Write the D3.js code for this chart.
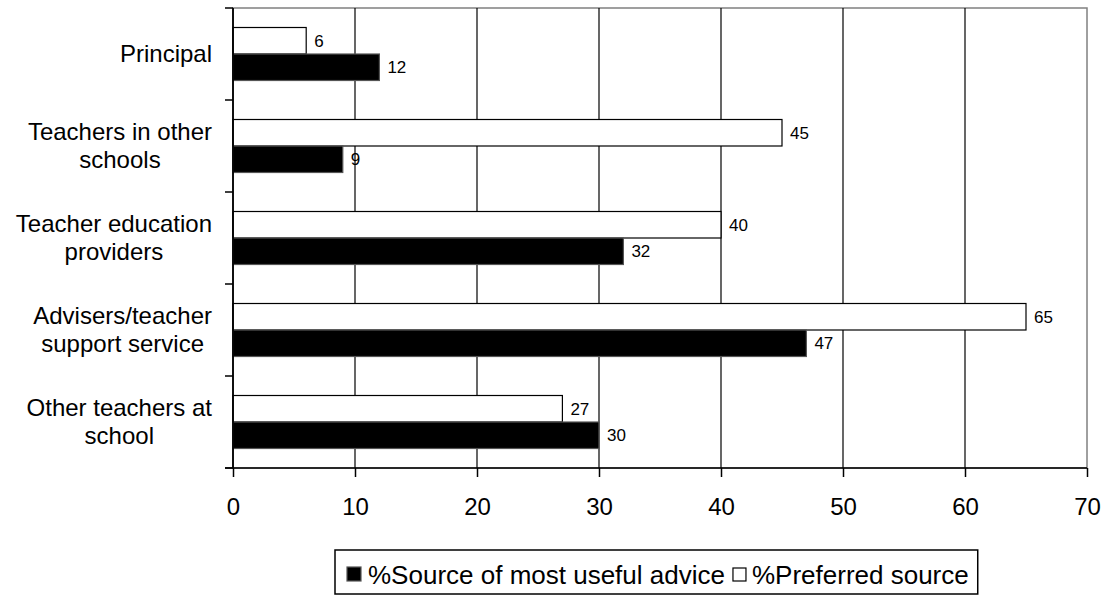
<!DOCTYPE html>
<html>
<head>
<meta charset="utf-8">
<script src="https://cdn.jsdelivr.net/npm/d3@7"></script>
<style>
  html, body { margin: 0; padding: 0; background: #fff; }
  svg { display: block; }
  text { font-family: "Liberation Sans", Arial, sans-serif; fill: #000; }
</style>
</head>
<body>
<svg id="chart" width="1106" height="595"></svg>
<script>
// ---- data ----
const categories = ["Principal", "Teachers in other schools", "Teacher education providers", "Advisers/teacher support service", "Other teachers at school"];
const categoryLines = [["Principal"], ["Teachers in other", "schools"], ["Teacher education", "providers"], ["Advisers/teacher", "support service"], ["Other teachers at", "school"]];
const seriesNames = ["%Preferred source", "%Source of most useful advice"];
const preferred = [6, 45, 40, 65, 27];
const useful = [12, 9, 32, 47, 30];
const xTicks = [0, 10, 20, 30, 40, 50, 60, 70];
const legendOrder = ["%Source of most useful advice", "%Preferred source"];

// ---- layout ----
const svg = d3.select("#chart");
const pLeft = 233, pRight = 1087, pTop = 8, pBottom = 468;
const x = d3.scaleLinear().domain([0, 70]).range([pLeft, pRight]);
const y = d3.scaleBand().domain(categories).range([pTop, pBottom]).padding(0);
const inner = d3.scaleBand().domain(seriesNames).range([0, y.bandwidth()]).paddingInner(0).paddingOuter(0.736);
const fills = { "%Preferred source": "#fff", "%Source of most useful advice": "#000" };
const valuesBySeries = { "%Preferred source": preferred, "%Source of most useful advice": useful };

// plot border (gray top/right)
svg.append("rect").attr("x", pLeft).attr("y", pTop).attr("width", pRight - pLeft).attr("height", pBottom - pTop)
  .attr("fill", "none").attr("stroke", "#808080").attr("stroke-width", 1.5);

// gridlines
svg.append("g").selectAll("line").data(xTicks.filter(t => t > 0 && t < 70)).join("line")
  .attr("x1", d => x(d)).attr("x2", d => x(d)).attr("y1", pTop).attr("y2", pBottom)
  .attr("stroke", "#000").attr("stroke-width", 1.2);

// bars
const rows = [];
categories.forEach((c, i) => seriesNames.forEach(s => rows.push({ cat: c, s, v: valuesBySeries[s][i] })));
svg.append("g").selectAll("rect").data(rows).join("rect")
  .attr("x", x(0))
  .attr("y", d => y(d.cat) + inner(d.s))
  .attr("width", d => x(d.v) - x(0))
  .attr("height", inner.bandwidth())
  .attr("fill", d => fills[d.s])
  .attr("stroke", d => d.s === "%Preferred source" ? "#000" : "#555")
  .attr("stroke-width", 1.2);

// data labels
svg.append("g").selectAll("text").data(rows).join("text")
  .attr("x", d => x(d.v) + 8)
  .attr("y", d => y(d.cat) + inner(d.s) + inner.bandwidth() / 2)
  .attr("dy", "0.35em")
  .attr("font-size", 17)
  .text(d => d.v);

// x axis
const xAxis = d3.axisBottom(x).tickValues(xTicks).tickSize(9).tickPadding(21).tickFormat(d3.format("d"));
const gx = svg.append("g").attr("transform", `translate(0,${pBottom})`).call(xAxis);
gx.select(".domain").remove();
gx.selectAll(".tick line").attr("stroke", "#000").attr("stroke-width", 1.5);
gx.selectAll(".tick text").attr("font-size", 24).attr("font-family", "Liberation Sans, Arial, sans-serif").attr("fill", "#000");
svg.append("line").attr("x1", 225).attr("x2", pRight).attr("y1", pBottom).attr("y2", pBottom)
  .attr("stroke", "#000").attr("stroke-width", 1.5);

// y axis line and boundary ticks
const bounds = categories.map(c => y(c)).concat([pBottom]);
svg.append("line").attr("x1", pLeft).attr("x2", pLeft).attr("y1", pTop).attr("y2", pBottom)
  .attr("stroke", "#000").attr("stroke-width", 1.8);
svg.append("g").selectAll("line").data(bounds).join("line")
  .attr("x1", 225).attr("x2", pLeft).attr("y1", d => d).attr("y2", d => d)
  .attr("stroke", "#000").attr("stroke-width", 1.5);

// category labels (block right-aligned, lines centered)
const lineH = 28;
categories.forEach((c, i) => {
  const lines = categoryLines[i];
  const g = svg.append("g");
  const texts = lines.map((ln, j) => g.append("text")
    .attr("font-size", 24)
    .attr("text-anchor", "middle")
    .attr("y", y(c) + y.bandwidth() / 2 + (j - (lines.length - 1) / 2) * lineH)
    .attr("dy", "0.35em")
    .text(ln));
  const maxW = d3.max(texts, t => t.node().getComputedTextLength());
  texts.forEach(t => t.attr("x", 212 - maxW / 2));
});

// legend
const lg = svg.append("g");
const box = lg.append("rect").attr("x", 335).attr("y", 550).attr("height", 44)
  .attr("fill", "#fff").attr("stroke", "#000").attr("stroke-width", 1.5);
lg.append("rect").attr("x", 347).attr("y", 567).attr("width", 14).attr("height", 14)
  .attr("fill", "#000").attr("stroke", "#555").attr("stroke-width", 1.2);
const t1 = lg.append("text").attr("x", 368).attr("y", 584).attr("font-size", 26).text(legendOrder[0]);
const e1 = 368 + t1.node().getComputedTextLength();
lg.append("rect").attr("x", e1 + 8).attr("y", 568).attr("width", 13).attr("height", 13)
  .attr("fill", "#fff").attr("stroke", "#000").attr("stroke-width", 1.2);
const t2 = lg.append("text").attr("x", e1 + 27).attr("y", 584).attr("font-size", 26).text(legendOrder[1]);
const e2 = e1 + 27 + t2.node().getComputedTextLength();
box.attr("width", e2 + 9 - 335);
</script>
</body>
</html>
